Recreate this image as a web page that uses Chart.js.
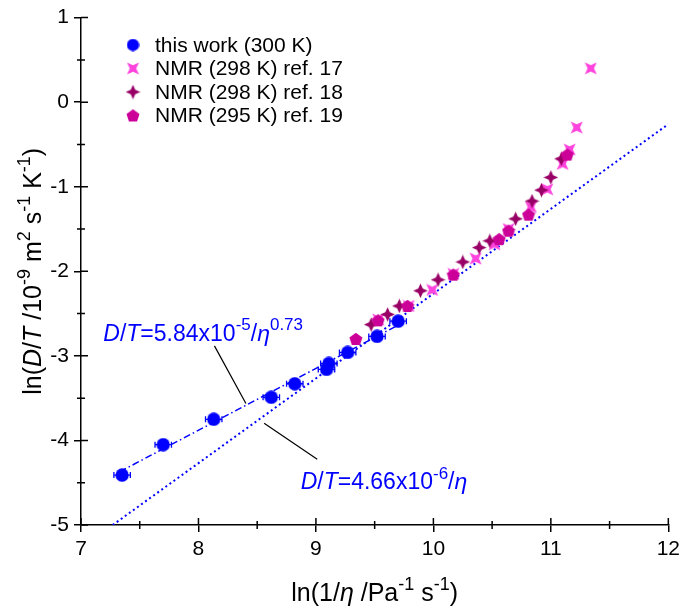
<!DOCTYPE html>
<html>
<head>
<meta charset="utf-8">
<script src="https://cdn.jsdelivr.net/npm/chart.js@4.4.0/dist/chart.umd.min.js"></script>
<style>
  html, body { margin: 0; padding: 0; background: #fff; }
  #wrap { width: 685px; height: 609px; }
</style>
</head>
<body>
<div id="wrap"><canvas id="chart" width="685" height="609"></canvas></div>
<script>
'use strict';

/**
 * data
 */

// this work (300 K)
const workX = [7.35, 7.70, 8.13, 8.62, 8.82, 9.09, 9.11, 9.27, 9.52, 9.70];
const workY = [-4.41, -4.05, -3.75, -3.49, -3.33, -3.16, -3.09, -2.96, -2.77, -2.59];
const workErr = [0.07, 0.07, 0.07, 0.07, 0.07, 0.07, 0.07, 0.07, 0.07, 0.07];

// NMR (298 K) ref. 17
const ref17X = [9.53, 9.79, 9.99, 10.17, 10.36, 10.52, 10.64, 10.83, 10.97, 11.10, 11.16, 11.22, 11.34];
const ref17Y = [-2.57, -2.41, -2.22, -2.03, -1.85, -1.68, -1.50, -1.24, -1.03, -0.73, -0.56, -0.30, 0.40];

// NMR (298 K) ref. 18
const ref18X = [9.47, 9.61, 9.71, 9.89, 10.04, 10.25, 10.39, 10.48, 10.70, 10.84, 10.92, 11.00, 11.09];
const ref18Y = [-2.63, -2.51, -2.41, -2.23, -2.10, -1.89, -1.72, -1.64, -1.38, -1.17, -1.04, -0.89, -0.67];

// NMR (295 K) ref. 19
const ref19X = [9.34, 9.53, 9.78, 10.17, 10.56, 10.64, 10.81, 11.14];
const ref19Y = [-2.80, -2.58, -2.41, -2.04, -1.62, -1.52, -1.33, -0.62];

// fitted lines (end points)
const fitPowX = [7.33, 9.75];
const fitPowY = [-4.37, -2.60];
const fitLinX = [7.27, 12.0];
const fitLinY = [-5.0, -0.26];

const xTicks = [7, 8, 9, 10, 11, 12];
const yTicks = [-5, -4, -3, -2, -1, 0, 1];

const legendLabels = ['this work (300 K)', 'NMR (298 K) ref. 17', 'NMR (298 K) ref. 18', 'NMR (295 K) ref. 19'];

const FONT = "'Liberation Sans', Arial, sans-serif";
const BLUE = '#0000ff';

const toPoints = (xs, ys) => xs.map((x, i) => ({ x: x, y: ys[i] }));

/**
 * marker images
 */

const makeMarker = function (kind, color, size) {
  const c = document.createElement('canvas');
  c.width = size;
  c.height = size;
  const g = c.getContext('2d');
  const r = size / 2;
  g.translate(r, r);
  g.fillStyle = color;
  g.beginPath();
  if (kind === 'xstar') {
    const o = r * 0.92, k = r * 0.5;
    g.moveTo(-o, -o); g.lineTo(0, -k); g.lineTo(o, -o); g.lineTo(k, 0);
    g.lineTo(o, o); g.lineTo(0, k); g.lineTo(-o, o); g.lineTo(-k, 0);
  } else if (kind === 'star4') {
    const o = r * 0.98, k = r * 0.3;
    g.moveTo(0, -o); g.lineTo(k, -k); g.lineTo(o, 0); g.lineTo(k, k);
    g.lineTo(0, o); g.lineTo(-k, k); g.lineTo(-o, 0); g.lineTo(-k, -k);
  } else if (kind === 'pent') {
    const o = r * 0.98;
    for (let i = 0; i < 5; i++) {
      const a = -Math.PI / 2 + i * 2 * Math.PI / 5;
      if (i === 0) g.moveTo(o * Math.cos(a), o * Math.sin(a) + 0.5);
      else g.lineTo(o * Math.cos(a), o * Math.sin(a) + 0.5);
    }
  } else {
    g.arc(0, 0, r * 0.95, 0, Math.PI * 2);
  }
  g.closePath();
  g.fill();
  return c;
}

const mCircle = makeMarker('circle', BLUE, 14);
const mXstar = makeMarker('xstar', '#ff44dd', 13);
const mStar4 = makeMarker('star4', '#990066', 15);
const mPent = makeMarker('pent', '#cc0099', 14);
const legendMarkers = [makeMarker('circle', BLUE, 13), mXstar, mStar4, mPent];

/**
 * rich text (italic + superscripts)
 */

const partFont = function (style, size) {
  const sup = style.indexOf('sup') >= 0;
  const it = style === 'i' || style === 'supi';
  return (it ? 'italic ' : '') + Math.round(sup ? size * 0.72 : size) + 'px ' + FONT;
}

const richWidth = function (ctx, parts, size) {
  let w = 0;
  parts.forEach(p => { ctx.font = partFont(p[1], size); w += ctx.measureText(p[0]).width; });
  return w;
}

const drawRich = function (ctx, parts, x, y, size, align) {
  let cx = x;
  if (align === 'center') cx = x - richWidth(ctx, parts, size) / 2;
  ctx.textBaseline = 'alphabetic';
  ctx.textAlign = 'left';
  parts.forEach(p => {
    ctx.font = partFont(p[1], size);
    const dy = p[1].indexOf('sup') >= 0 ? -size * 0.45 : 0;
    ctx.fillText(p[0], cx, y + dy);
    cx += ctx.measureText(p[0]).width;
  });
}

const xTitle = [['ln(1/', ''], ['\u03b7', 'i'], [' /Pa', ''], ['-1', 'sup'], [' s', ''], ['-1', 'sup'], [')', '']];
const yTitle = [['ln(', ''], ['D', 'i'], ['/', ''], ['T', 'i'], [' /10', ''], ['-9', 'sup'], [' m', ''], ['2', 'sup'],
  [' s', ''], ['-1', 'sup'], [' K', ''], ['-1', 'sup'], [')', '']];
const noteA = [['D', 'i'], ['/', ''], ['T', 'i'], ['=5.84x10', ''], ['-5', 'sup'], ['/', ''], ['\u03b7', 'i'], ['0.73', 'sup']];
const noteB = [['D', 'i'], ['/', ''], ['T', 'i'], ['=4.66x10', ''], ['-6', 'sup'], ['/', ''], ['\u03b7', 'i']];

// annotation anchors in data units
const noteAPos = { x: 7.19, y: -2.82 };
const noteBPos = { x: 8.87, y: -4.58 };
const leaderA = [[8.136, -2.882], [8.404, -3.563]];
const leaderB = [[8.559, -3.796], [9.011, -4.223]];

/**
 * extra drawing
 */

const decor = {
  id: 'decor',
  beforeDatasetsDraw(chart) {
    const ctx = chart.ctx, xs = chart.scales.x, ys = chart.scales.y;
    ctx.save();
    ctx.strokeStyle = BLUE;
    ctx.lineWidth = 1.3;
    for (let i = 0; i < workX.length; i++) {
      const x0 = xs.getPixelForValue(workX[i] - workErr[i]);
      const x1 = xs.getPixelForValue(workX[i] + workErr[i]);
      const py = ys.getPixelForValue(workY[i]);
      ctx.beginPath();
      ctx.moveTo(x0, py); ctx.lineTo(x1, py);
      ctx.moveTo(x0, py - 3); ctx.lineTo(x0, py + 3);
      ctx.moveTo(x1, py - 3); ctx.lineTo(x1, py + 3);
      ctx.stroke();
    }
    ctx.restore();
  },
  afterDraw(chart) {
    const ctx = chart.ctx, xs = chart.scales.x, ys = chart.scales.y;
    const area = chart.chartArea;
    ctx.save();

    // inner halves of major ticks + minor ticks
    ctx.strokeStyle = '#000';
    ctx.lineWidth = 1.5;
    ctx.beginPath();
    xTicks.forEach(v => {
      const px = xs.getPixelForValue(v);
      ctx.moveTo(px, area.bottom); ctx.lineTo(px, area.bottom - 7);
      if (v < 12) {
        const pm = xs.getPixelForValue(v + 0.5);
        ctx.moveTo(pm, area.bottom - 4); ctx.lineTo(pm, area.bottom + 4);
      }
    });
    yTicks.forEach(v => {
      const py = ys.getPixelForValue(v);
      ctx.moveTo(area.left, py); ctx.lineTo(area.left + 7, py);
      if (v < 1) {
        const pm = ys.getPixelForValue(v + 0.5);
        ctx.moveTo(area.left - 4, pm); ctx.lineTo(area.left + 4, pm);
      }
    });
    ctx.stroke();

    // leader lines
    ctx.lineWidth = 1.2;
    ctx.beginPath();
    [leaderA, leaderB].forEach(l => {
      ctx.moveTo(xs.getPixelForValue(l[0][0]), ys.getPixelForValue(l[0][1]));
      ctx.lineTo(xs.getPixelForValue(l[1][0]), ys.getPixelForValue(l[1][1]));
    });
    ctx.stroke();

    // fit labels
    ctx.fillStyle = BLUE;
    drawRich(ctx, noteA, xs.getPixelForValue(noteAPos.x), ys.getPixelForValue(noteAPos.y), 23, 'left');
    drawRich(ctx, noteB, xs.getPixelForValue(noteBPos.x), ys.getPixelForValue(noteBPos.y), 23, 'left');

    // legend
    ctx.fillStyle = '#000';
    legendLabels.forEach((t, i) => {
      const cy = 45 + i * 23.5;
      const m = legendMarkers[i];
      ctx.drawImage(m, 133 - m.width / 2, cy - m.height / 2);
      ctx.font = '21px ' + FONT;
      ctx.textAlign = 'left';
      ctx.textBaseline = 'middle';
      ctx.fillText(t, 155, cy + 1);
    });

    // axis titles
    drawRich(ctx, xTitle, (area.left + area.right) / 2, 601, 25, 'center');
    ctx.translate(41, (area.top + area.bottom) / 2);
    ctx.rotate(-Math.PI / 2);
    drawRich(ctx, yTitle, 0, 0, 25, 'center');
    ctx.restore();
  }
};

/**
 * chart
 */

const axisCommon = {
  type: 'linear',
  border: { display: true, color: '#000', width: 1.5 },
  grid: { display: true, drawOnChartArea: false, drawTicks: true, tickLength: 7, color: '#000', lineWidth: 1.5 },
};

new Chart(document.getElementById('chart'), {
  type: 'scatter',
  data: {
    datasets: [
      { label: legendLabels[0], data: toPoints(workX, workY), pointStyle: mCircle, order: 0 },
      { label: legendLabels[3], data: toPoints(ref19X, ref19Y), pointStyle: mPent, order: 1 },
      { label: legendLabels[2], data: toPoints(ref18X, ref18Y), pointStyle: mStar4, order: 2 },
      { label: legendLabels[1], data: toPoints(ref17X, ref17Y), pointStyle: mXstar, order: 3 },
      {
        label: 'fit power', data: toPoints(fitPowX, fitPowY), showLine: true, pointRadius: 0,
        borderColor: BLUE, borderWidth: 1.5, borderDash: [7, 3, 1.5, 3], order: 4
      },
      {
        label: 'fit linear', data: toPoints(fitLinX, fitLinY), showLine: true, pointRadius: 0,
        borderColor: BLUE, borderWidth: 2, borderDash: [2, 3], order: 5
      }
    ]
  },
  options: {
    responsive: false,
    animation: false,
    devicePixelRatio: 1,
    layout: { padding: { top: 10, right: 13, left: 0, bottom: 0 } },
    plugins: { legend: { display: false }, tooltip: { enabled: false } },
    scales: {
      x: Object.assign({}, axisCommon, {
        min: 7, max: 12,
        afterBuildTicks: s => { s.ticks = xTicks.map(v => ({ value: v })); },
        afterFit: s => { s.height = 84; },
        ticks: { font: { family: FONT, size: 21 }, color: '#000', padding: 5, maxRotation: 0 }
      }),
      y: Object.assign({}, axisCommon, {
        min: -5, max: 1,
        afterBuildTicks: s => { s.ticks = yTicks.map(v => ({ value: v })); },
        afterFit: s => { s.width = 81; },
        ticks: { font: { family: FONT, size: 21 }, color: '#000', padding: 5 }
      })
    }
  },
  plugins: [decor]
});
</script>
</body>
</html>
